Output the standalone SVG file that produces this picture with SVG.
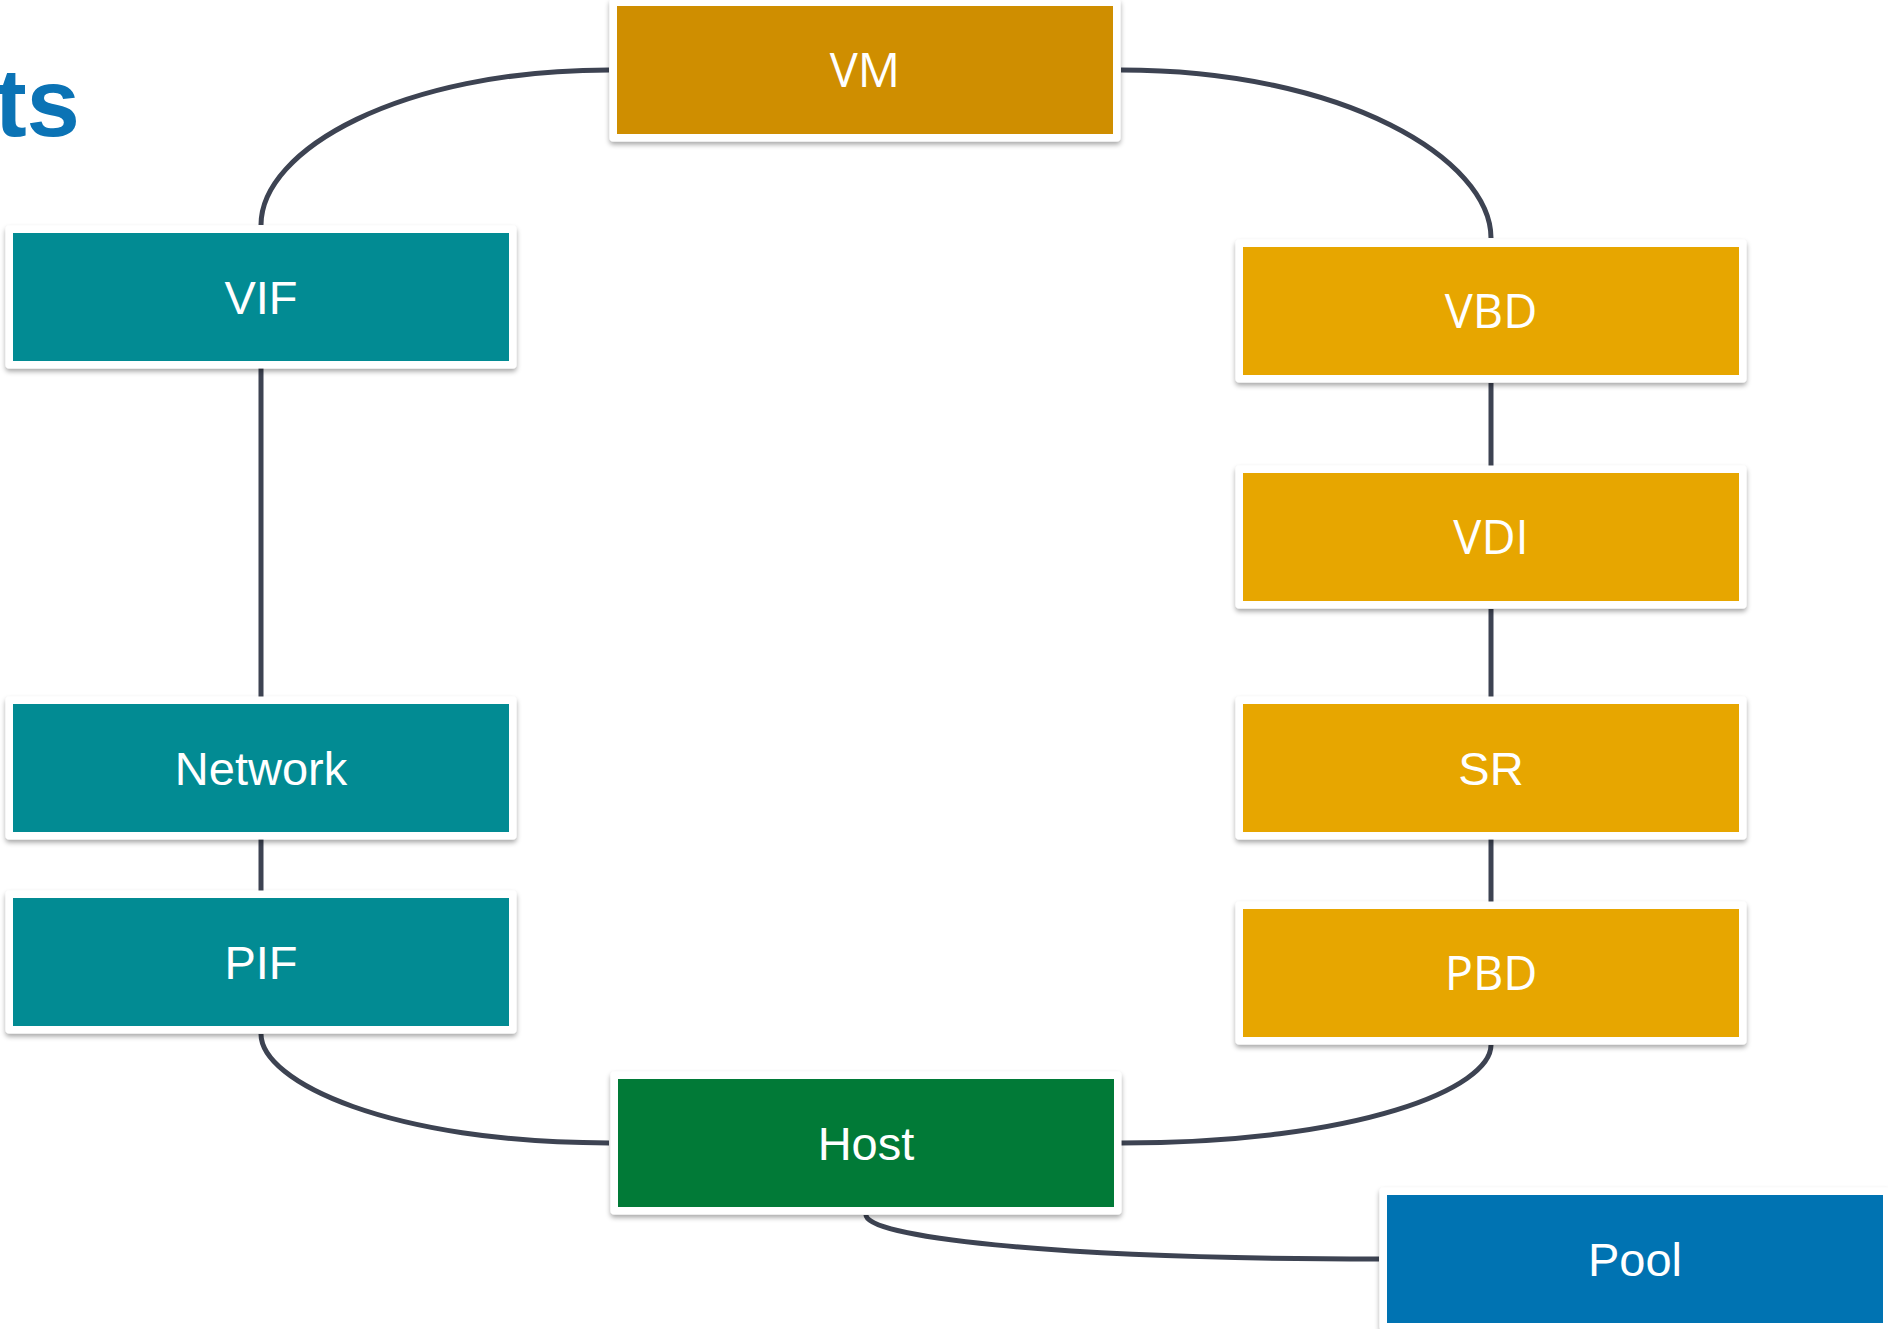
<svg xmlns="http://www.w3.org/2000/svg" width="1888" height="1329" viewBox="0 0 1888 1329">
  <defs>
    <filter id="card-shadow" x="-5%" y="-10%" width="110%" height="130%">
      <feDropShadow dx="0" dy="3" stdDeviation="2.5" flood-color="#000" flood-opacity="0.35"/>
    </filter>
  </defs>
  <style>
    .frame { fill: #ffffff; filter: url(#card-shadow); }
    .vm { fill: #CF8E00; }
    .storage { fill: #E7A600; }
    .net { fill: #028B93; }
    .host { fill: #017A37; }
    .pool { fill: #0073B2; }
    .label { fill: #ffffff; font-size: 47px; text-anchor: middle; }
    .sans { font-family: "Liberation Sans", Arial, sans-serif; }
    .open { font-family: "Open Sans", "Noto Sans", sans-serif; }
    .edge { fill: none; stroke: #3D4352; stroke-width: 5; }
    .heading { fill: #0B73B5; font-family: "Liberation Sans", Arial, sans-serif; font-weight: bold; font-size: 96px; text-anchor: end; }
  </style>

  <rect width="1888" height="1329" fill="#ffffff"/>

  <text class="heading" x="80" y="136">ts</text>

  <g id="connectors">
    <path class="edge" d="M609,70 C400,70 261,150 261,225"/>
    <path class="edge" d="M1121,70 C1345,70 1491,160 1491,238"/>
    <path class="edge" d="M261,368 L261,697"/>
    <path class="edge" d="M261,839 L261,891"/>
    <path class="edge" d="M1491,383 L1491,466"/>
    <path class="edge" d="M1491,609 L1491,697"/>
    <path class="edge" d="M1491,839 L1491,902"/>
    <path class="edge" d="M261,1034 C261,1082 390,1143 609,1143"/>
    <path class="edge" d="M1491,1045 C1491,1088 1360,1143 1121,1143"/>
    <path class="edge" d="M866,1215 C866,1236 1040,1259 1379,1259"/>
  </g>

  <g id="node-vm">
    <rect class="frame" x="609.5" y="-1.5" width="511" height="143" rx="4"/>
    <rect class="vm" x="617" y="6" width="496" height="128"/>
    <text class="label open" x="865" y="87">VM</text>
  </g>

  <g id="node-vif">
    <rect class="frame" x="5.5" y="225.5" width="511" height="143" rx="4"/>
    <rect class="net" x="13" y="233" width="496" height="128"/>
    <text class="label sans" x="261" y="314">VIF</text>
  </g>

  <g id="node-vbd">
    <rect class="frame" x="1235.5" y="239.5" width="511" height="143" rx="4"/>
    <rect class="storage" x="1243" y="247" width="496" height="128"/>
    <text class="label open" x="1491" y="328">VBD</text>
  </g>

  <g id="node-vdi">
    <rect class="frame" x="1235.5" y="465.5" width="511" height="143" rx="4"/>
    <rect class="storage" x="1243" y="473" width="496" height="128"/>
    <text class="label open" x="1491" y="554">VDI</text>
  </g>

  <g id="node-sr">
    <rect class="frame" x="1235.5" y="696.5" width="511" height="143" rx="4"/>
    <rect class="storage" x="1243" y="704" width="496" height="128"/>
    <text class="label sans" x="1491" y="785">SR</text>
  </g>

  <g id="node-pbd">
    <rect class="frame" x="1235.5" y="901.5" width="511" height="143" rx="4"/>
    <rect class="storage" x="1243" y="909" width="496" height="128"/>
    <text class="label open" x="1491" y="990">PBD</text>
  </g>

  <g id="node-network">
    <rect class="frame" x="5.5" y="696.5" width="511" height="143" rx="4"/>
    <rect class="net" x="13" y="704" width="496" height="128"/>
    <text class="label sans" x="261" y="785">Network</text>
  </g>

  <g id="node-pif">
    <rect class="frame" x="5.5" y="890.5" width="511" height="143" rx="4"/>
    <rect class="net" x="13" y="898" width="496" height="128"/>
    <text class="label sans" x="261" y="979">PIF</text>
  </g>

  <g id="node-host">
    <rect class="frame" x="610.5" y="1071.5" width="511" height="143" rx="4"/>
    <rect class="host" x="618" y="1079" width="496" height="128"/>
    <text class="label sans" x="866" y="1160">Host</text>
  </g>

  <g id="node-pool">
    <rect class="frame" x="1379.5" y="1187.5" width="511" height="143" rx="4"/>
    <rect class="pool" x="1387" y="1195" width="496" height="128"/>
    <text class="label sans" x="1635" y="1276">Pool</text>
  </g>
</svg>
